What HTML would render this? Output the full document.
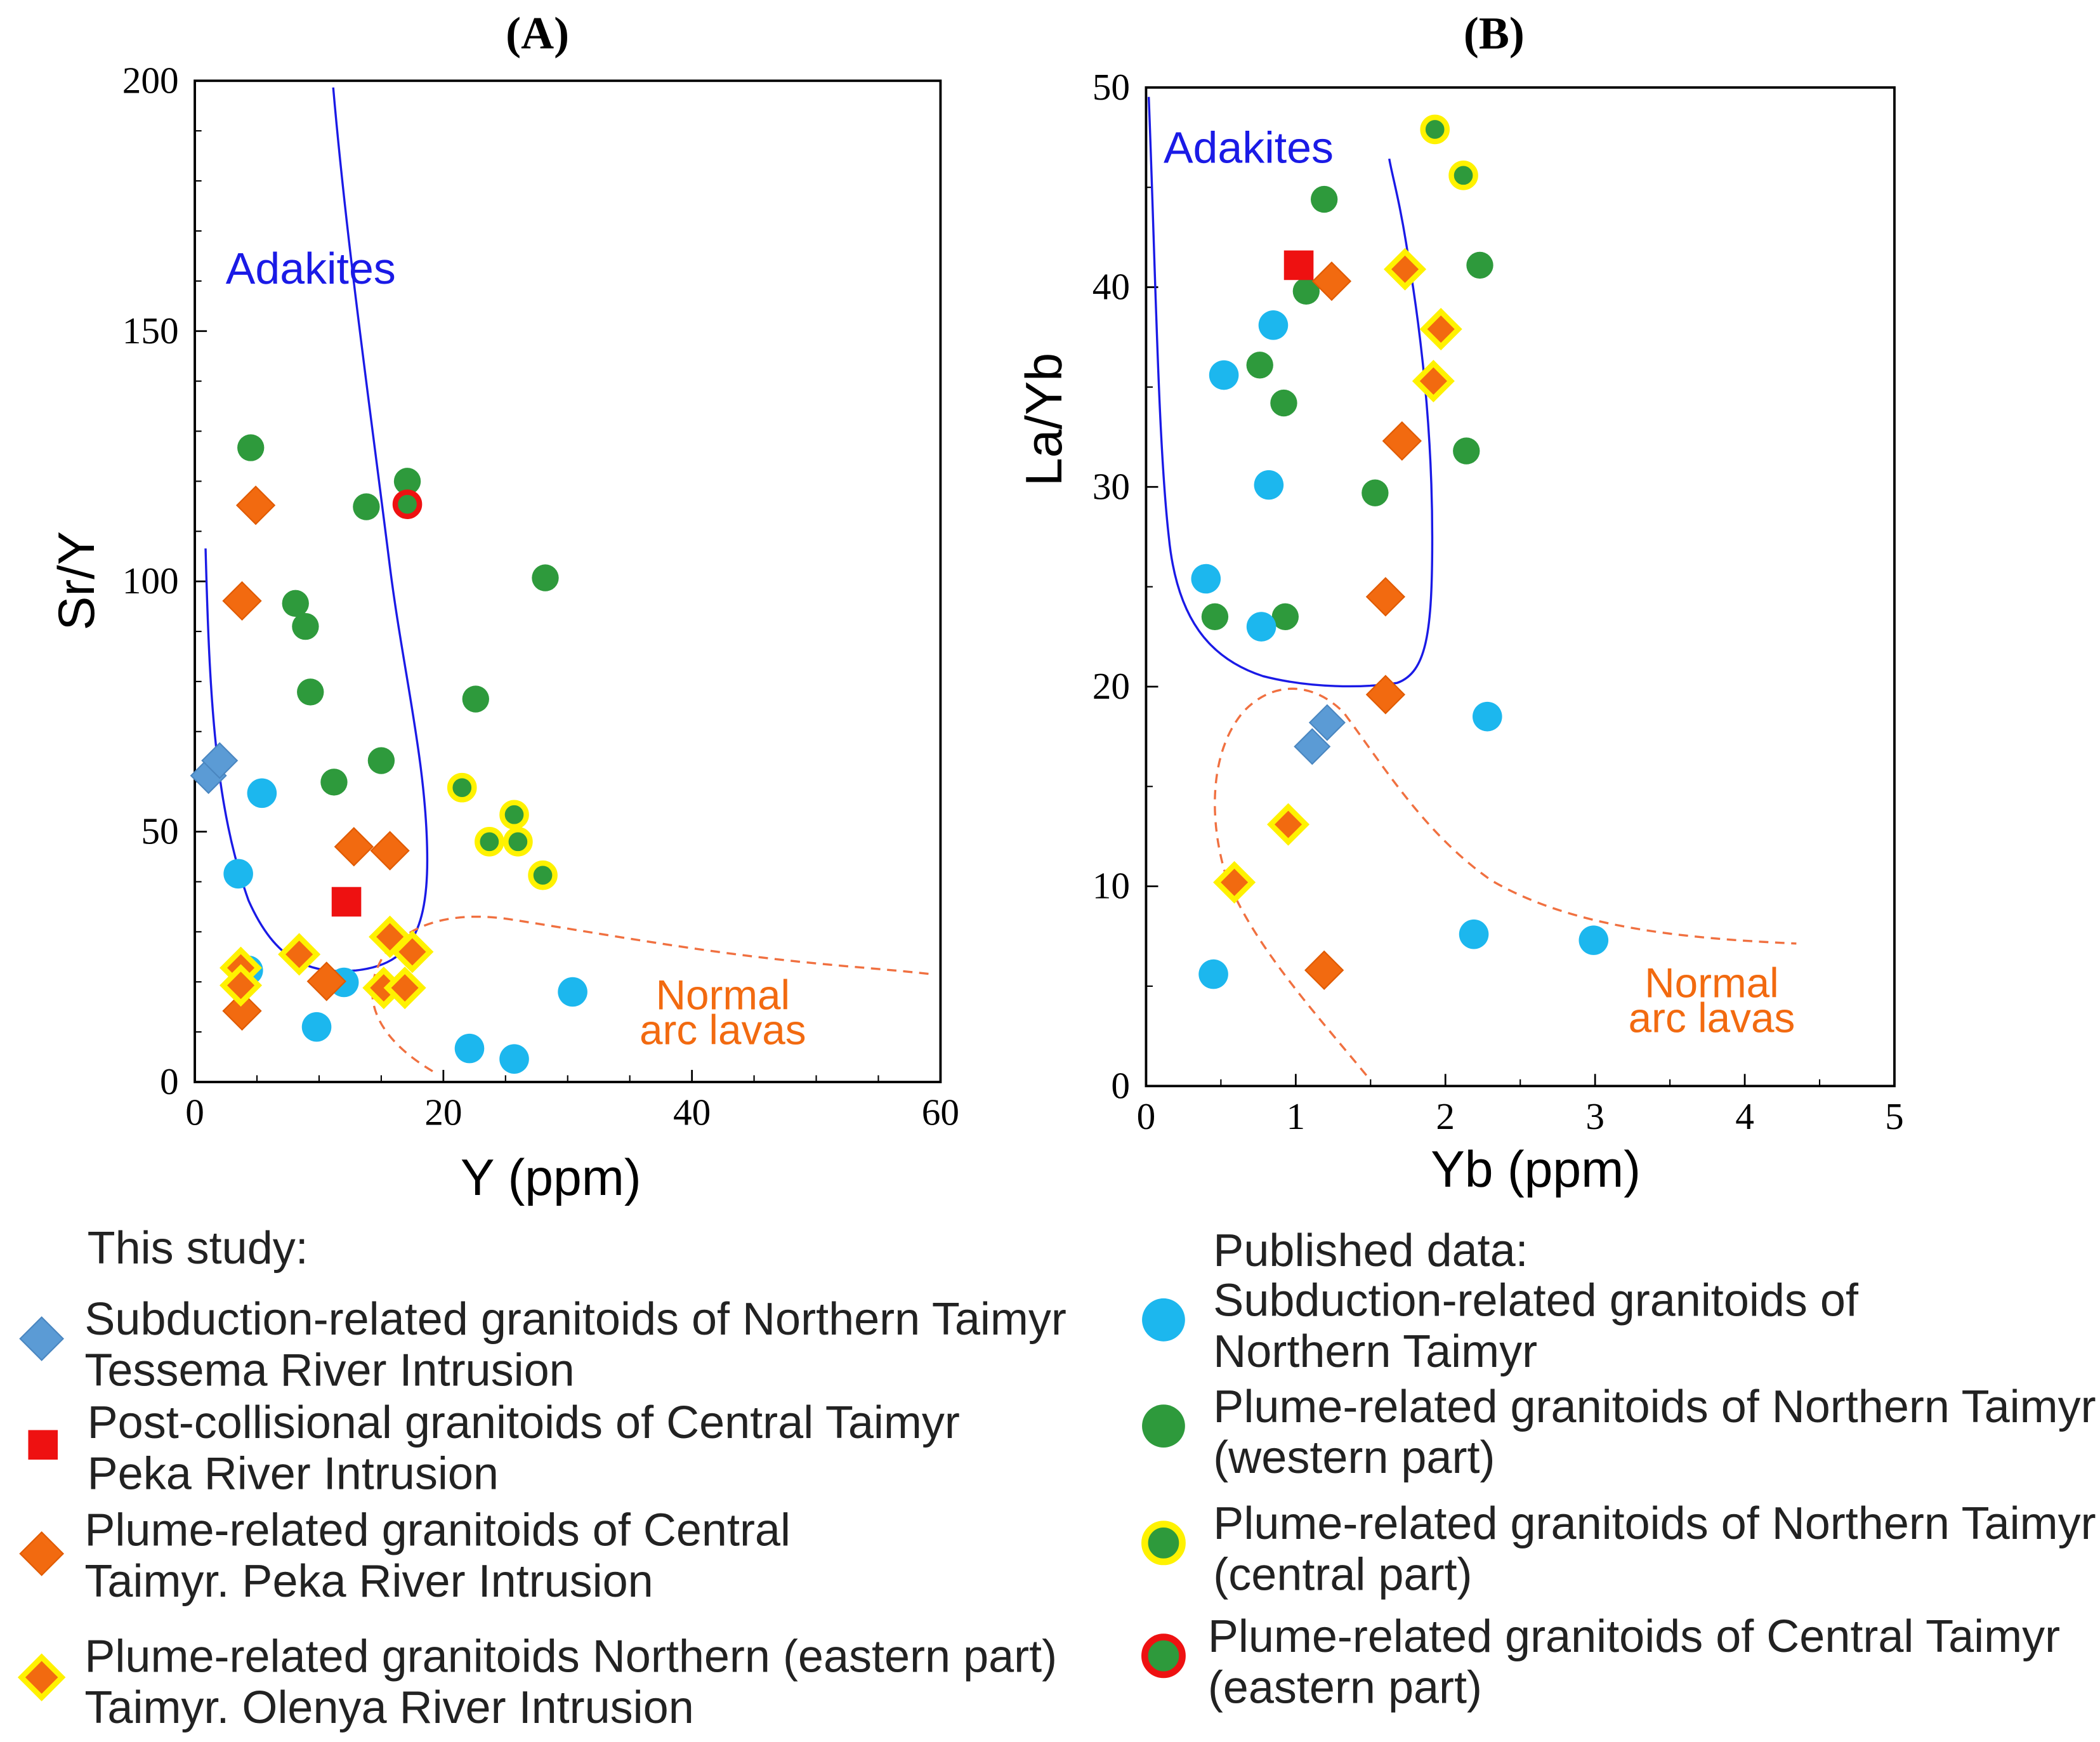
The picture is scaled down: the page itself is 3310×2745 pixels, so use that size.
<!DOCTYPE html>
<html><head><meta charset="utf-8"><style>
html,body{margin:0;padding:0;background:#fff;}
svg{display:block;}
text{font-family:"Liberation Sans",sans-serif;}
</style></head><body>
<svg id="chart" width="3310" height="2745" viewBox="0 0 1563 1296" xmlns="http://www.w3.org/2000/svg">
<rect x="0" y="0" width="1563" height="1296" fill="#ffffff"/>
<g id="gA"></g>
<g id="gB"></g>
<g id="legend"></g>
</svg>
<script>
// Panel A data: [Y, Sr/Y]
const aGreen=[[4.5,126.7],[8.1,95.6],[8.9,91],[9.3,77.9],[11.2,59.9],[13.8,114.9],[15,64.2],[17.1,120],[22.6,76.5],[28.2,100.7]];
const aGreenY=[[21.5,58.8],[23.7,48],[25.7,53.4],[26,48],[28,41.3]];
const aRedRing=[[17.1,115.4]];
const aCyan=[[5.4,57.7],[3.5,41.6],[4.3,22.3],[9.8,11],[12,19.9],[22.1,6.7],[25.7,4.6],[30.4,18]];
const aBlueDia=[[1.1,61.2],[2,64.2]];
const aRedSq=[[12.2,36]];
const aOrange=[[4.9,115.2],[3.8,96.1],[12.8,47],[15.7,46.2],[10.6,20.1],[3.8,14.2]];
const aYellowDia=[[3.7,22.8],[3.7,19.3],[8.4,25.5],[15.7,29],[15.2,18.8],[17.5,26],[16.9,18.8]];
const aXTicks=[0,20,40,60];
const aYTicks=[0,50,100,150,200];
// Panel B data: [Yb, La/Yb]
const bGreen=[[1.19,44.4],[0.76,36.1],[0.92,34.2],[1.07,39.8],[2.23,41.1],[2.14,31.8],[1.53,29.7],[0.46,23.5],[0.93,23.5]];
const bGreenY=[[1.93,47.9],[2.12,45.6]];
const bCyan=[[0.85,38.1],[0.52,35.6],[0.82,30.1],[0.40,25.4],[0.77,23],[2.28,18.5],[2.19,7.6],[2.99,7.3],[0.45,5.6]];
const bRedSq=[[1.02,41.1]];
const bOrange=[[1.24,40.3],[1.71,32.3],[1.6,24.5],[1.6,19.6],[1.19,5.8]];
const bBlueDia=[[1.21,18.2],[1.11,17]];
const bYellowDia=[[1.73,40.9],[1.97,37.9],[1.92,35.3],[0.95,13.1],[0.59,10.2]];
const bXTicks=[0,1,2,3,4,5];
const bYTicks=[0,10,20,30,40,50];

const NS="http://www.w3.org/2000/svg";
function mk(tag,attrs,parent,txt){const e=document.createElementNS(NS,tag);for(const k in attrs)e.setAttribute(k,attrs[k]);if(txt!==undefined)e.textContent=txt;parent.appendChild(e);return e;}

function panel(g,cfg){
  const sx=v=>cfg.x0+(v-cfg.xmin)/(cfg.xmax-cfg.xmin)*(cfg.x1-cfg.x0);
  const sy=v=>cfg.y0-(v-cfg.ymin)/(cfg.ymax-cfg.ymin)*(cfg.y0-cfg.y1);
  const box=mk('rect',{x:cfg.x0,y:cfg.y1,width:cfg.x1-cfg.x0,height:cfg.y0-cfg.y1,fill:'none',stroke:'#000','stroke-width':1.8},g);
  
  
  cfg.xt.forEach((t,i)=>{
    const x=sx(t);
    mk('line',{x1:x,y1:cfg.y0,x2:x,y2:cfg.y0-9,stroke:'#000','stroke-width':1.3},g);
    if(i<cfg.xt.length-1){for(let m=1;m<cfg.xminor;m++){const xm=sx(t+(cfg.xt[1]-cfg.xt[0])*m/cfg.xminor);mk('line',{x1:xm,y1:cfg.y0,x2:xm,y2:cfg.y0-5,stroke:'#000','stroke-width':1},g);}}
    const lb=mk('text',{x:x,y:cfg.y0+32,'text-anchor':'middle','font-size':28,style:'font-family:"Liberation Serif",serif'},g,String(t));
    
    
  });
  cfg.yt.forEach((t,i)=>{
    const y=sy(t);
    mk('line',{x1:cfg.x0,y1:y,x2:cfg.x0+9,y2:y,stroke:'#000','stroke-width':1.3},g);
    if(i<cfg.yt.length-1){for(let m=1;m<cfg.yminor;m++){const ym=sy(t+(cfg.yt[1]-cfg.yt[0])*m/cfg.yminor);mk('line',{x1:cfg.x0,y1:ym,x2:cfg.x0+5,y2:ym,stroke:'#000','stroke-width':1},g);}}
    const lb=mk('text',{x:cfg.x0-12,y:y+9,'text-anchor':'end','font-size':28,style:'font-family:"Liberation Serif",serif'},g,String(t));
    
    
  });
  return {sx,sy};
}
function circles(g,arr,s,fill,stroke,sw,r,name){arr.forEach(p=>{const c=mk('circle',{cx:s.sx(p[0]),cy:s.sy(p[1]),r:r,fill:fill,stroke:stroke,'stroke-width':sw},g);
  
  });}
function diamonds(g,arr,s,fill,stroke,sw,r,name){arr.forEach(p=>{const x=s.sx(p[0]),y=s.sy(p[1]);const d=mk('polygon',{points:`${x},${y-r} ${x+r},${y} ${x},${y+r} ${x-r},${y}`,fill:fill,stroke:stroke,'stroke-width':sw},g);
  
  });}
function squares(g,arr,s,name){arr.forEach(p=>{const x=s.sx(p[0]),y=s.sy(p[1]);const q=mk('rect',{x:x-11,y:y-11,width:22,height:22,fill:'#ee1111'},g);
  
  });}

const GREEN='#2e9a3c',CYAN='#1cb7ee',ORANGE='#f26a10',YEL='#fff200',BLUE='#5b9bd5';

// Panel A
const gA=document.getElementById('gA');
const sA=panel(gA,{x0:145,x1:700,y0:805,y1:60,xmin:0,xmax:60,ymin:0,ymax:200,xt:aXTicks,yt:aYTicks,xminor:4,yminor:5});
let p=mk('path',{d:'M153,408 C156,520 160,600 185,670 C205,715 230,725 265,722 C300,718 318,700 318,640 C318,570 300,500 290,420 C275,300 258,180 248,65',fill:'none',stroke:'#1a1ae6','stroke-width':1.6},gA);

p=mk('path',{d:'M322,797 C285,775 265,745 285,712 C305,685 340,678 380,684 C450,695 520,708 600,716 C640,720 670,722 695,725',fill:'none',stroke:'#f07040','stroke-width':1.6,'stroke-dasharray':'7,5'},gA);

let t=mk('text',{x:168,y:211,'font-size':33,fill:'#1a1ae6'},gA,'Adakites');
t=mk('text',{x:538,y:751,'font-size':31,fill:'#f26a10','text-anchor':'middle'},gA,'Normal');
t=mk('text',{x:538,y:777,'font-size':31,fill:'#f26a10','text-anchor':'middle'},gA,'arc lavas');
circles(gA,aGreen,sA,GREEN,'none',0,10,'point-plume-northern-western');
circles(gA,aGreenY,sA,GREEN,YEL,4,9,'point-plume-northern-central');
circles(gA,aRedRing,sA,GREEN,'#ee1111',4,9,'point-plume-central-eastern');
circles(gA,aCyan,sA,CYAN,'none',0,11,'point-published-subduction');
diamonds(gA,aBlueDia,sA,BLUE,'#4a86c0',1,13,'point-subduction-tessema');
squares(gA,aRedSq,sA,'point-post-collisional-peka');
diamonds(gA,aOrange,sA,ORANGE,'#e05a00',1,14,'point-plume-central-peka');
diamonds(gA,aYellowDia,sA,ORANGE,YEL,4,13,'point-plume-olenya');
t=mk('text',{x:400,y:36,'font-size':34,'font-weight':'bold','text-anchor':'middle',style:'font-family:"Liberation Serif",serif'},gA,'(A)');
t=mk('text',{x:70,y:432,'font-size':38,'text-anchor':'middle',transform:'rotate(-90 70 432)'},gA,'Sr/Y');
t=mk('text',{x:410,y:889,'font-size':38,'text-anchor':'middle'},gA,'Y (ppm)');

// Panel B
const gB=document.getElementById('gB');
const sB=panel(gB,{x0:853,x1:1410,y0:808,y1:65,xmin:0,xmax:5,ymin:0,ymax:50,xt:bXTicks,yt:bYTicks,xminor:2,yminor:2});
p=mk('path',{d:'M855,72 C860,200 862,330 870,400 C876,460 900,490 940,503 C975,512 1015,512 1040,508 C1062,500 1066,470 1066,400 C1066,320 1058,250 1048,190 C1042,150 1036,130 1034,118',fill:'none',stroke:'#1a1ae6','stroke-width':1.6},gB);

p=mk('path',{d:'M1017,800 C980,755 930,700 912,650 C900,610 900,560 925,530 C945,508 975,505 1000,530 C1030,570 1060,620 1110,655 C1170,690 1250,698 1337,702',fill:'none',stroke:'#f07040','stroke-width':1.6,'stroke-dasharray':'7,5'},gB);

t=mk('text',{x:866,y:121,'font-size':33,fill:'#1a1ae6'},gB,'Adakites');
t=mk('text',{x:1274,y:742,'font-size':31,fill:'#f26a10','text-anchor':'middle'},gB,'Normal');
t=mk('text',{x:1274,y:768,'font-size':31,fill:'#f26a10','text-anchor':'middle'},gB,'arc lavas');
circles(gB,bGreen,sB,GREEN,'none',0,10,'point-plume-northern-western');
circles(gB,bGreenY,sB,GREEN,YEL,4,9,'point-plume-northern-central');
circles(gB,bCyan,sB,CYAN,'none',0,11,'point-published-subduction');
squares(gB,bRedSq,sB,'point-post-collisional-peka');
diamonds(gB,bOrange,sB,ORANGE,'#e05a00',1,14,'point-plume-central-peka');
diamonds(gB,bBlueDia,sB,BLUE,'#4a86c0',1,13,'point-subduction-tessema');
diamonds(gB,bYellowDia,sB,ORANGE,YEL,4,13,'point-plume-olenya');
t=mk('text',{x:1112,y:36,'font-size':34,'font-weight':'bold','text-anchor':'middle',style:'font-family:"Liberation Serif",serif'},gB,'(B)');
t=mk('text',{x:790,y:312,'font-size':38,'text-anchor':'middle',transform:'rotate(-90 790 312)'},gB,'La/Yb');
t=mk('text',{x:1143,y:883,'font-size':38,'text-anchor':'middle'},gB,'Yb (ppm)');

// Legend
const gL=document.getElementById('legend');
function lt(x,y,s,name){const e=mk('text',{x:x,y:y,'font-size':34,fill:'#222'},gL,s);}
lt(65,940,'This study:','legend-heading-this-study');
let d=mk('polygon',{points:'31,980 47,996 31,1012 15,996',fill:BLUE,stroke:'#4a86c0'},gL);
lt(63,993,'Subduction-related granitoids of Northern Taimyr','legend-entry-subduction-tessema');
lt(63,1031,'Tessema River Intrusion','legend-entry-subduction-tessema-2');
d=mk('rect',{x:21,y:1064,width:22,height:22,fill:'#ee1111'},gL);
lt(65,1070,'Post-collisional granitoids of Central Taimyr','legend-entry-post-collisional');
lt(65,1108,'Peka River Intrusion','legend-entry-post-collisional-2');
d=mk('polygon',{points:'31,1140 47,1156 31,1172 15,1156',fill:ORANGE,stroke:'#e05a00'},gL);
lt(63,1150,'Plume-related granitoids of Central','legend-entry-plume-peka');
lt(63,1188,'Taimyr. Peka River Intrusion','legend-entry-plume-peka-2');
d=mk('polygon',{points:'31,1233 46,1248 31,1263 16,1248',fill:ORANGE,stroke:YEL,'stroke-width':4},gL);
lt(63,1244,'Plume-related granitoids Northern (eastern part)','legend-entry-plume-olenya');
lt(63,1282,'Taimyr. Olenya River Intrusion','legend-entry-plume-olenya-2');
lt(903,942,'Published data:','legend-heading-published');
d=mk('circle',{cx:866,cy:982,r:16,fill:CYAN},gL);
lt(903,979,'Subduction-related granitoids of','legend-entry-published-subduction');
lt(903,1017,'Northern Taimyr','legend-entry-published-subduction-2');
d=mk('circle',{cx:866,cy:1061,r:16,fill:GREEN},gL);
lt(903,1058,'Plume-related granitoids of Northern Taimyr','legend-entry-plume-western');
lt(903,1096,'(western part)','legend-entry-plume-western-2');
d=mk('circle',{cx:866,cy:1148,r:14,fill:GREEN,stroke:YEL,'stroke-width':5},gL);
lt(903,1145,'Plume-related granitoids of Northern Taimyr','legend-entry-plume-central');
lt(903,1183,'(central part)','legend-entry-plume-central-2');
d=mk('circle',{cx:866,cy:1232,r:14,fill:GREEN,stroke:'#ee1111','stroke-width':5},gL);
lt(899,1229,'Plume-related granitoids of Central Taimyr','legend-entry-plume-central-eastern');
lt(899,1267,'(eastern part)','legend-entry-plume-central-eastern-2');
</script>
</body></html>
